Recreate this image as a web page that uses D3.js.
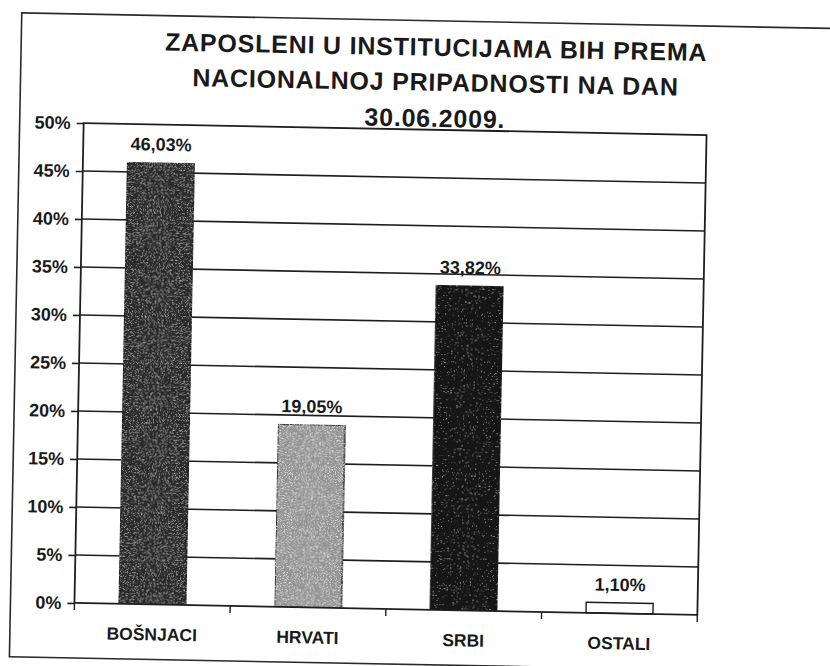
<!DOCTYPE html>
<html>
<head>
<meta charset="utf-8">
<script src="https://cdn.jsdelivr.net/npm/d3@7"></script>
<style>
html,body{margin:0;padding:0;background:#fff;}
svg{display:block;}
text{font-family:"Liberation Sans",Arial,sans-serif;font-weight:bold;fill:#1a1a1a;}
</style>
</head>
<body>
<svg id="chart" width="830" height="666"></svg>
<script>
const titleLines = ["ZAPOSLENI U INSTITUCIJAMA BIH PREMA", "NACIONALNOJ PRIPADNOSTI NA DAN", "30.06.2009."];
const categories = ["BOŠNJACI", "HRVATI", "SRBI", "OSTALI"];
const values = [0.4603, 0.1905, 0.3382, 0.0110];
const valueLabels = ["46,03%", "19,05%", "33,82%", "1,10%"];
const yTicks = [0, 0.05, 0.10, 0.15, 0.20, 0.25, 0.30, 0.35, 0.40, 0.45, 0.50];
const yTickLabels = ["0%", "5%", "10%", "15%", "20%", "25%", "30%", "35%", "40%", "45%", "50%"];
const barFills = ["#2c2c2c", "#939393", "#151515", "#ffffff"];

(function () {
const svg = d3.select("#chart");
const defs = svg.append("defs");
// speckle texture filters (specks of differing density and shade)
function speck(id, seed, gain, cut, shade) {
  const f = defs.append("filter").attr("id", id).attr("x", 0).attr("y", 0).attr("width", 1).attr("height", 1);
  f.append("feTurbulence").attr("type", "fractalNoise").attr("baseFrequency", 1.3).attr("numOctaves", 1).attr("seed", seed).attr("result", "n");
  f.append("feColorMatrix").attr("in", "n").attr("type", "matrix")
    .attr("values", `0 0 0 0 ${shade}  0 0 0 0 ${shade}  0 0 0 0 ${shade}  ${gain} 0 0 0 ${cut}`).attr("result", "w");
  f.append("feComposite").attr("in", "w").attr("in2", "SourceGraphic").attr("operator", "in").attr("result", "ws");
  const m = f.append("feMerge");
  m.append("feMergeNode").attr("in", "SourceGraphic");
  m.append("feMergeNode").attr("in", "ws");
}
speck("sp0", 5, 3.0, -1.65, 0.6);
speck("sp1", 9, 3.0, -1.5, 0.95);
speck("sp2", 13, 4.0, -2.6, 0.55);
const filters = ["url(#sp0)", "url(#sp1)", "url(#sp2)", null];

const g = svg.append("g").attr("transform", "rotate(1.1 390 369)");

// outer frame
g.append("rect").attr("x", 15).attr("y", 20).attr("width", 860).attr("height", 644)
  .attr("fill", "none").attr("stroke", "#2a2a2a").attr("stroke-width", 1.6);

const pL = 79, pR = 702, pT = 129, pB = 609;
const x = d3.scaleBand().domain(categories).range([pL, pR]).paddingInner(0.57).paddingOuter(0.285);
const y = d3.scaleLinear().domain([0, 0.5]).range([pB, pT]);

// title
g.append("g").selectAll("text").data(titleLines).join("text")
  .attr("x", 430).attr("y", (d, i) => [55, 90, 126][i])
  .attr("text-anchor", "middle").attr("font-size", 25).attr("letter-spacing", 0.8).text(d => d);

// y axis ticks and labels
const yAxis = d3.axisLeft(y).tickValues(yTicks).tickSize(7).tickPadding(6)
  .tickFormat((d, i) => yTickLabels[i]);
const ya = g.append("g").attr("transform", `translate(${pL},0)`).call(yAxis);
ya.select(".domain").remove();
ya.selectAll(".tick line").attr("stroke", "#1e1e1e").attr("stroke-width", 1.6);
ya.selectAll(".tick text").attr("font-size", 18).attr("font-family", "Liberation Sans, Arial, sans-serif")
  .attr("font-weight", "bold").attr("fill", "#1a1a1a");

// gridlines
g.append("g").selectAll("line").data(yTicks.filter(t => t > 0 && t < 0.5)).join("line")
  .attr("x1", pL).attr("x2", pR).attr("y1", d => y(d)).attr("y2", d => y(d))
  .attr("stroke", "#1e1e1e").attr("stroke-width", 1.6);

// bars
g.append("g").selectAll("rect").data(values).join("rect")
  .attr("x", (d, i) => x(categories[i])).attr("width", x.bandwidth())
  .attr("y", d => y(d)).attr("height", d => y(0) - y(d))
  .attr("fill", (d, i) => barFills[i])
  .attr("stroke", "#1a1a1a").attr("stroke-width", 1.4)
  .attr("filter", (d, i) => filters[i]);

// plot border
g.append("rect").attr("x", pL).attr("y", pT).attr("width", pR - pL).attr("height", pB - pT)
  .attr("fill", "none").attr("stroke", "#1e1e1e").attr("stroke-width", 1.8);

// x axis category ticks
const step = (pR - pL) / categories.length;
const boundaries = d3.range(categories.length + 1).map(i => pL + i * step);
g.append("g").selectAll("line").data(boundaries).join("line")
  .attr("x1", d => d).attr("x2", d => d).attr("y1", pB).attr("y2", pB + 7)
  .attr("stroke", "#1e1e1e").attr("stroke-width", 1.4);

// value labels
g.append("g").selectAll("text").data(values).join("text")
  .attr("x", (d, i) => x(categories[i]) + x.bandwidth() / 2)
  .attr("y", d => y(d) - 12)
  .attr("text-anchor", "middle").attr("font-size", 18)
  .text((d, i) => valueLabels[i]);

// category labels
g.append("g").selectAll("text").data(categories).join("text")
  .attr("x", d => x(d) + x.bandwidth() / 2).attr("y", 645)
  .attr("text-anchor", "middle").attr("font-size", 17.5).text(d => d);
})();
</script>
</body>
</html>
